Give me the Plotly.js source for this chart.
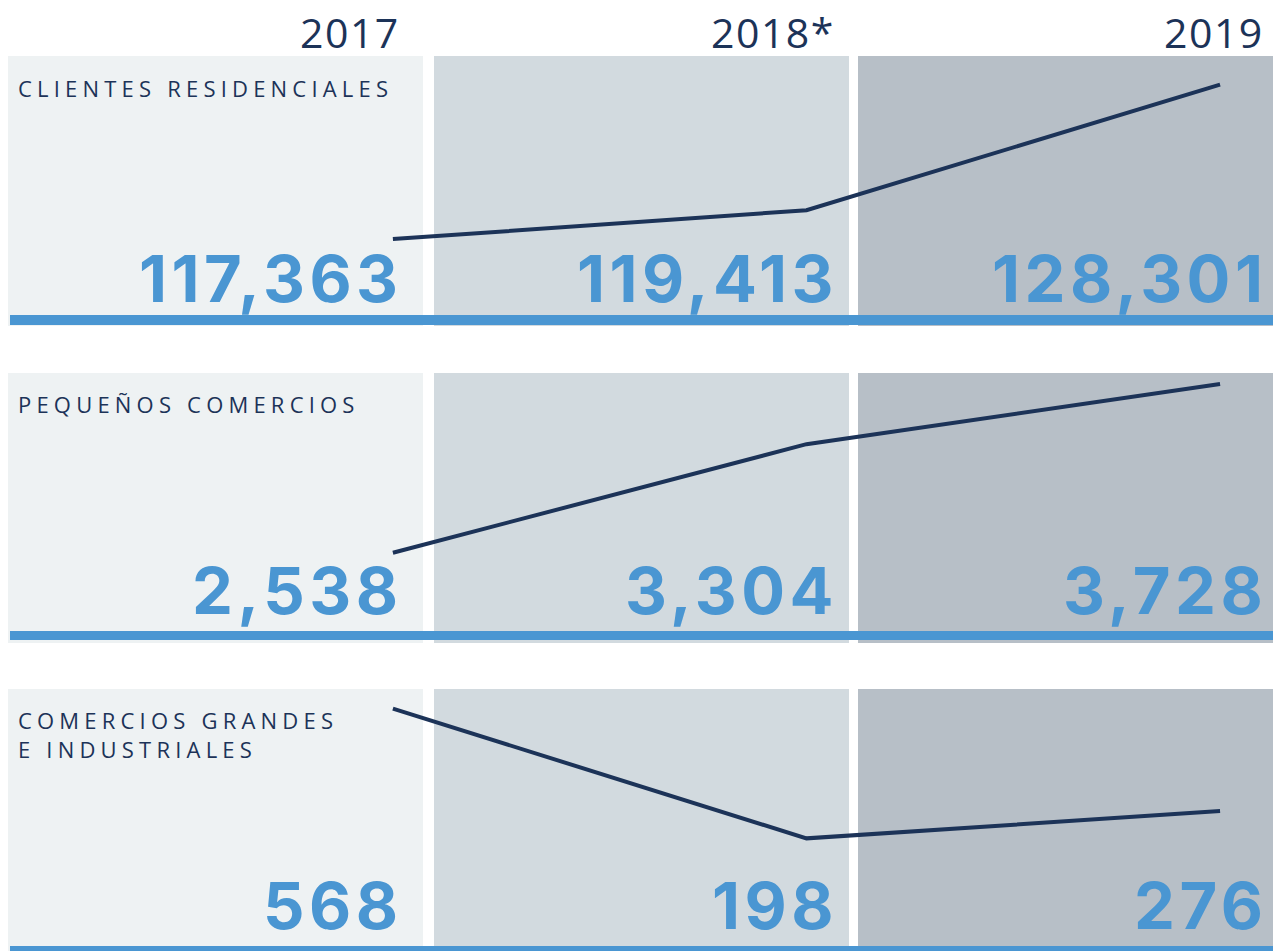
<!DOCTYPE html>
<html>
<head>
<meta charset="utf-8">
<script src="https://cdn.plot.ly/plotly-3.0.1.min.js"></script>
<style>
html,body{margin:0;padding:0;background:#fff;}
#chart{width:1273px;height:951px;}
text.annotation-text[style*="font-size: 65px"]{letter-spacing:4.5px;}
text.annotation-text[style*="font-size: 22px"]{letter-spacing:5.2px;}
text.annotation-text[style*="font-size: 41px"]{letter-spacing:1.5px;}
</style>
</head>
<body>
<div id="chart"></div>
<script>
// ---- data ----
var years = ['2017', '2018*', '2019'];
var residenciales = [117363, 119413, 128301];
var pequenos = [2538, 3304, 3728];
var grandes = [568, 198, 276];
var rowTitles = ['CLIENTES RESIDENCIALES', 'PEQUEÑOS COMERCIOS', 'COMERCIOS GRANDES<br>E INDUSTRIALES'];

// ---- layout helpers ----
var W = 1273, H = 951;
function px(x){ return x / W; }
function py(y){ return 1 - y / H; }

var navy = '#1c3358';
var blue = '#4a96d2';
var panelColors = ['#eef2f3', '#d2dadf', '#b7bfc7'];
var colX = [[8, 423], [434, 849], [858, 1273]];
var rowY = [[56, 326], [373, 643], [689, 951]];
var barY = [[315, 325], [631, 640], [946, 951]];
var numRight = [398, 833, 1262];
var numBottom = [319, 631, 946];
var titleTop = [71, 387, 703];

var series = [residenciales, pequenos, grandes];
var axisNames = ['y', 'y2', 'y3'];

var traces = series.map(function(s, i){
  return {
    x: years, y: s, type: 'scatter', mode: 'lines',
    yaxis: axisNames[i], xaxis: 'x',
    line: {color: navy, width: 4},
    hoverinfo: 'skip', showlegend: false
  };
});

var shapes = [];
rowY.forEach(function(r){
  colX.forEach(function(c, j){
    shapes.push({type: 'rect', xref: 'paper', yref: 'paper', layer: 'below',
      x0: px(c[0]), x1: px(c[1]), y0: py(r[1]), y1: py(r[0]),
      fillcolor: panelColors[j], line: {width: 0}});
  });
});
barY.forEach(function(b){
  shapes.push({type: 'rect', xref: 'paper', yref: 'paper', layer: 'below',
    x0: px(10), x1: 1, y0: py(b[1]), y1: py(b[0]),
    fillcolor: blue, line: {width: 0}});
});

var annotations = [];
years.forEach(function(yr, j){
  annotations.push({text: yr, xref: 'paper', yref: 'paper', x: px(numRight[j] + 4), y: py(2),
    xanchor: 'right', yanchor: 'top', showarrow: false,
    font: {family: 'Open Sans', size: 41, color: navy}});
});
series.forEach(function(s, i){
  annotations.push({text: rowTitles[i], xref: 'paper', yref: 'paper', x: px(16), y: py(titleTop[i]),
    xanchor: 'left', yanchor: 'top', align: 'left', showarrow: false,
    font: {family: 'Open Sans', size: 22, color: navy}});
  s.forEach(function(v, j){
    annotations.push({text: v.toLocaleString('en-US'), xref: 'paper', yref: 'paper',
      x: px(numRight[j] + 7), y: py(numBottom[i] + 1),
      xanchor: 'right', yanchor: 'bottom', showarrow: false,
      font: {family: 'Inter', size: 65, color: blue, weight: 700}});
  });
});

var hidden = {visible: false, fixedrange: true};
var layout = {
  width: W, height: H,
  margin: {l: 0, r: 0, t: 0, b: 0, pad: 0},
  paper_bgcolor: '#ffffff', plot_bgcolor: 'rgba(0,0,0,0)',
  showlegend: false,
  xaxis: Object.assign({type: 'category', range: [-0.950, 2.128]}, hidden),
  yaxis: Object.assign({domain: [py(318), py(56)], range: [111773, 130335]}, hidden),
  yaxis2: Object.assign({domain: [py(633), py(373)], range: [1971.7, 3806.2]}, hidden),
  yaxis3: Object.assign({domain: [py(951), py(689)], range: [-123.2, 624.0]}, hidden),
  shapes: shapes,
  annotations: annotations
};

Plotly.newPlot('chart', traces, layout, {displayModeBar: false, staticPlot: true});
</script>
</body>
</html>
